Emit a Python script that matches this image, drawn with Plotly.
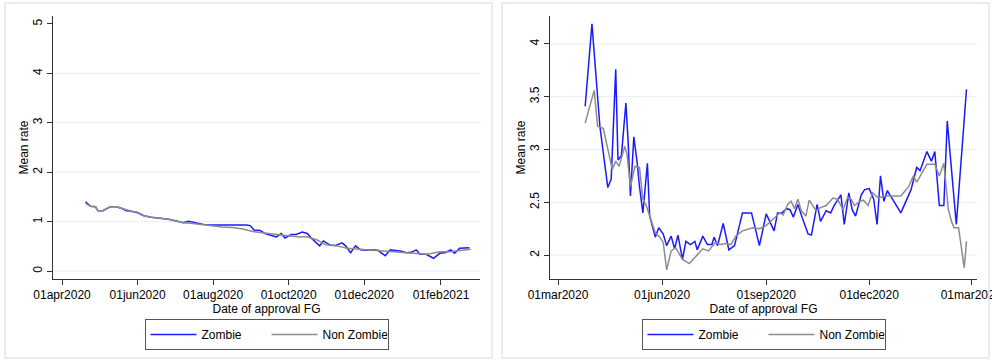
import plotly.graph_objects as go

# ---- Left panel: mean rate by approval date ----
left_zombie_dates = [
    "2020-04-20", "2020-04-22", "2020-04-24", "2020-04-28", "2020-04-30", "2020-05-04",
    "2020-05-07", "2020-05-10", "2020-05-15", "2020-05-19", "2020-05-23", "2020-05-27",
    "2020-06-01", "2020-06-06", "2020-06-12", "2020-06-19", "2020-06-26", "2020-07-03",
    "2020-07-08", "2020-07-12", "2020-07-16", "2020-07-20", "2020-07-27", "2020-08-01",
    "2020-08-08", "2020-08-14", "2020-08-22", "2020-08-28", "2020-08-31", "2020-09-03",
    "2020-09-08", "2020-09-12", "2020-09-17", "2020-09-21", "2020-09-25", "2020-09-28",
    "2020-10-03", "2020-10-07", "2020-10-12", "2020-10-16", "2020-10-20", "2020-10-26",
    "2020-10-29", "2020-11-03", "2020-11-08", "2020-11-13", "2020-11-16", "2020-11-20",
    "2020-11-24", "2020-11-28", "2020-12-03", "2020-12-08", "2020-12-12", "2020-12-18",
    "2020-12-22", "2020-12-27", "2020-12-31", "2021-01-04", "2021-01-08", "2021-01-12",
    "2021-01-15", "2021-01-20", "2021-01-26", "2021-01-31", "2021-02-04", "2021-02-09",
    "2021-02-12", "2021-02-16", "2021-02-21", "2021-02-24",
]
left_zombie_rate = [
    1.40, 1.36, 1.31, 1.30, 1.22, 1.22,
    1.26, 1.30, 1.30, 1.27, 1.22, 1.21,
    1.18, 1.12, 1.09, 1.07, 1.05, 1.01,
    0.98, 1.01, 0.99, 0.96, 0.93, 0.93,
    0.93, 0.94, 0.93, 0.93, 0.92, 0.83,
    0.82, 0.76, 0.72, 0.69, 0.76, 0.67,
    0.74, 0.74, 0.79, 0.76, 0.65, 0.51,
    0.61, 0.53, 0.52, 0.57, 0.51, 0.37,
    0.51, 0.43, 0.42, 0.43, 0.42, 0.31,
    0.43, 0.42, 0.40, 0.37, 0.38, 0.43,
    0.34, 0.34, 0.26, 0.36, 0.37, 0.43,
    0.36, 0.46, 0.47, 0.47,
]

left_nonzombie_dates = [
    "2020-04-20", "2020-04-24", "2020-04-28", "2020-04-30", "2020-05-04", "2020-05-10",
    "2020-05-15", "2020-05-19", "2020-05-23", "2020-05-27", "2020-06-01", "2020-06-06",
    "2020-06-12", "2020-06-19", "2020-06-26", "2020-07-03", "2020-07-08", "2020-07-14",
    "2020-07-20", "2020-07-27", "2020-08-01", "2020-08-08", "2020-08-17", "2020-08-25",
    "2020-09-02", "2020-09-08", "2020-09-13", "2020-09-20", "2020-09-26", "2020-10-02",
    "2020-10-10", "2020-10-15", "2020-10-19", "2020-10-24", "2020-10-31", "2020-11-09",
    "2020-11-17", "2020-11-28", "2020-12-08", "2020-12-19", "2020-12-30", "2021-01-09",
    "2021-01-20", "2021-01-25", "2021-01-31", "2021-02-08", "2021-02-16", "2021-02-25",
]
left_nonzombie_rate = [
    1.37, 1.31, 1.30, 1.22, 1.22, 1.30,
    1.30, 1.27, 1.23, 1.21, 1.19, 1.12,
    1.09, 1.07, 1.05, 1.01, 0.98, 0.97,
    0.95, 0.92, 0.91, 0.89, 0.88, 0.85,
    0.80, 0.78, 0.76, 0.74, 0.73, 0.71,
    0.69, 0.70, 0.67, 0.63, 0.53, 0.51,
    0.46, 0.44, 0.43, 0.41, 0.38, 0.37,
    0.34, 0.36, 0.39, 0.39, 0.41, 0.44,
]

# ---- Right panel: mean rate by approval date ----
right_zombie_dates = [
    "2020-03-25", "2020-03-31", "2020-04-07", "2020-04-14", "2020-04-17", "2020-04-21",
    "2020-04-23", "2020-04-26", "2020-04-30", "2020-05-02", "2020-05-04", "2020-05-07",
    "2020-05-10", "2020-05-12", "2020-05-15", "2020-05-19", "2020-05-21", "2020-05-23",
    "2020-05-26", "2020-05-29", "2020-06-02", "2020-06-05", "2020-06-09", "2020-06-12",
    "2020-06-15", "2020-06-19", "2020-06-22", "2020-06-26", "2020-06-30", "2020-07-02",
    "2020-07-07", "2020-07-11", "2020-07-15", "2020-07-17", "2020-07-20", "2020-07-25",
    "2020-07-30", "2020-08-04", "2020-08-11", "2020-08-19", "2020-08-26", "2020-09-01",
    "2020-09-08", "2020-09-11", "2020-09-15", "2020-09-19", "2020-09-22", "2020-09-25",
    "2020-09-29", "2020-10-03", "2020-10-08", "2020-10-11", "2020-10-16", "2020-10-19",
    "2020-10-24", "2020-10-28", "2020-10-31", "2020-11-06", "2020-11-09", "2020-11-13",
    "2020-11-16", "2020-11-19", "2020-11-24", "2020-11-27", "2020-12-01", "2020-12-05",
    "2020-12-08", "2020-12-11", "2020-12-14", "2020-12-17", "2020-12-21", "2020-12-29",
    "2021-01-07", "2021-01-12", "2021-01-15", "2021-01-21", "2021-01-25", "2021-01-28",
    "2021-02-01", "2021-02-05", "2021-02-08", "2021-02-16", "2021-02-25",
]
right_zombie_rate = [
    3.41, 4.19, 3.22, 2.64, 2.72, 3.76,
    2.90, 2.94, 3.44, 3.07, 2.56, 3.12,
    2.87, 2.65, 2.40, 2.87, 2.37, 2.28,
    2.17, 2.26, 2.20, 2.09, 2.18, 2.06,
    2.19, 1.96, 2.13, 2.10, 2.13, 2.05,
    2.18, 2.10, 2.10, 2.17, 2.09, 2.30,
    2.05, 2.09, 2.40, 2.40, 2.09, 2.39,
    2.23, 2.40, 2.40, 2.44, 2.43, 2.36,
    2.48, 2.35, 2.20, 2.19, 2.48, 2.32,
    2.42, 2.40, 2.47, 2.57, 2.29, 2.59,
    2.43, 2.37, 2.57, 2.62, 2.63, 2.53,
    2.29, 2.75, 2.51, 2.61, 2.54, 2.40,
    2.62, 2.83, 2.80, 2.98, 2.89, 2.98,
    2.47, 2.47, 3.27, 2.29, 3.57,
]

right_nonzombie_dates = [
    "2020-03-25", "2020-04-02", "2020-04-05", "2020-04-10", "2020-04-18", "2020-04-21",
    "2020-04-24", "2020-04-29", "2020-05-01", "2020-05-04", "2020-05-08", "2020-05-12",
    "2020-05-15", "2020-05-18", "2020-05-22", "2020-05-26", "2020-05-30", "2020-06-02",
    "2020-06-05", "2020-06-09", "2020-06-13", "2020-06-19", "2020-06-25", "2020-07-01",
    "2020-07-07", "2020-07-12", "2020-07-18", "2020-07-23", "2020-07-27", "2020-08-01",
    "2020-08-05", "2020-08-11", "2020-08-20", "2020-08-26", "2020-09-01", "2020-09-07",
    "2020-09-13", "2020-09-16", "2020-09-20", "2020-09-23", "2020-09-26", "2020-09-29",
    "2020-10-02", "2020-10-06", "2020-10-09", "2020-10-15", "2020-10-19", "2020-10-24",
    "2020-10-30", "2020-11-03", "2020-11-08", "2020-11-12", "2020-11-15", "2020-11-18",
    "2020-11-23", "2020-11-26", "2020-11-30", "2020-12-04", "2020-12-09", "2020-12-14",
    "2020-12-20", "2020-12-29", "2021-01-05", "2021-01-09", "2021-01-12", "2021-01-18",
    "2021-01-21", "2021-01-28", "2021-02-01", "2021-02-05", "2021-02-09", "2021-02-12",
    "2021-02-14", "2021-02-18", "2021-02-23", "2021-02-25",
]
right_nonzombie_rate = [
    3.25, 3.56, 3.22, 3.20, 2.81, 2.89,
    2.84, 3.03, 2.95, 2.65, 2.84, 2.83,
    2.53, 2.47, 2.34, 2.21, 2.17, 2.12,
    1.86, 2.04, 2.07, 1.96, 1.92, 1.99,
    2.06, 2.04, 2.12, 2.10, 2.11, 2.10,
    2.18, 2.23, 2.26, 2.25, 2.28, 2.34,
    2.40, 2.38, 2.48, 2.51, 2.44, 2.53,
    2.42, 2.37, 2.52, 2.42, 2.45, 2.47,
    2.54, 2.53, 2.43, 2.55, 2.53, 2.47,
    2.51, 2.52, 2.47, 2.59, 2.54, 2.56,
    2.56, 2.56, 2.65, 2.75, 2.69, 2.81,
    2.86, 2.86, 2.75, 2.87, 2.43, 2.31,
    2.26, 2.26, 1.88, 2.13,
]

# ---- Axis ticks ----
left_xtick_dates = ["2020-04-01", "2020-06-01", "2020-08-01", "2020-10-01", "2020-12-01", "2021-02-01"]
left_xtick_labels = ["01apr2020", "01jun2020", "01aug2020", "01oct2020", "01dec2020", "01feb2021"]
left_yticks = [0, 1, 2, 3, 4, 5]
left_ygrid = [0, 1, 2, 3, 4]

right_xtick_dates = ["2020-03-01", "2020-06-01", "2020-09-01", "2020-12-01", "2021-03-01"]
right_xtick_labels = ["01mar2020", "01jun2020", "01sep2020", "01dec2020", "01mar2021"]
right_yticks = [2, 2.5, 3, 3.5, 4]
right_ygrid = [2, 2.5, 3, 3.5, 4]

W, H = 992, 361
FONT = "Liberation Sans, Arial, sans-serif"
BLUE = "#1a1aff"
GRAY = "#8c8c8c"
AXIS = "#333333"
GRID = "#e6eff1"


def px_x(p):
    return p / W


def px_y(p):
    return 1 - p / H


fig = go.Figure()

fig.add_trace(go.Scatter(x=left_zombie_dates, y=left_zombie_rate, mode="lines", name="Zombie",
                         line=dict(color=BLUE, width=1.5), xaxis="x", yaxis="y", legend="legend"))
fig.add_trace(go.Scatter(x=left_nonzombie_dates, y=left_nonzombie_rate, mode="lines", name="Non Zombie",
                         line=dict(color=GRAY, width=1.5), xaxis="x", yaxis="y", legend="legend"))
fig.add_trace(go.Scatter(x=right_zombie_dates, y=right_zombie_rate, mode="lines", name="Zombie",
                         line=dict(color=BLUE, width=1.5), xaxis="x2", yaxis="y2", legend="legend2"))
fig.add_trace(go.Scatter(x=right_nonzombie_dates, y=right_nonzombie_rate, mode="lines", name="Non Zombie",
                         line=dict(color=GRAY, width=1.5), xaxis="x2", yaxis="y2", legend="legend2"))

common_x = dict(showgrid=False, zeroline=False, showline=True, linecolor=AXIS, linewidth=1,
                ticks="outside", ticklen=5, tickcolor=AXIS, tickwidth=1, automargin=False,
                ticklabeloverflow="allow",
                tickfont=dict(size=12, color="black", family=FONT),
                title=dict(text="Date of approval FG", font=dict(size=12, color="black", family=FONT), standoff=0))
common_y = dict(showgrid=False, zeroline=False, showline=True, linecolor=AXIS, linewidth=1,
                ticks="outside", ticklen=5, tickcolor=AXIS, tickwidth=1, tickangle=-90, automargin=False,
                tickfont=dict(size=12, color="black", family=FONT),
                title=dict(text="Mean rate", font=dict(size=12, color="black", family=FONT), standoff=0))

legend_style = dict(orientation="h", xanchor="center", y=px_y(319), yanchor="top",
                    bordercolor="#555555", borderwidth=1, bgcolor="white",
                    font=dict(size=12, family=FONT, color="black"),
                    itemwidth=46, entrywidth=60, traceorder="normal")

fig.update_layout(
    width=W, height=H,
    margin=dict(l=0, r=0, t=0, b=0, autoexpand=False),
    paper_bgcolor="white", plot_bgcolor="white",
    font=dict(family=FONT, size=12, color="black"),
    xaxis=dict(common_x, domain=[px_x(53), px_x(480)], anchor="y",
               range=["2020-03-24 17:00", "2021-03-04 12:00"],
               tickvals=left_xtick_dates, ticktext=left_xtick_labels),
    yaxis=dict(common_y, domain=[px_y(279), px_y(16)], anchor="x",
               range=[-0.16, 5.16], tickvals=left_yticks),
    xaxis2=dict(common_x, domain=[px_x(550), px_x(977)], anchor="y2",
                range=["2020-02-22 22:00", "2021-03-06 07:00"],
                tickvals=right_xtick_dates, ticktext=right_xtick_labels),
    yaxis2=dict(common_y, domain=[px_y(279), px_y(16)], anchor="x2",
                range=[1.774, 4.264], tickvals=right_yticks, tickformat=".1~f"),
    legend=dict(legend_style, x=px_x(266.5)),
    legend2=dict(legend_style, x=px_x(763.5)),
    showlegend=True,
)

shapes = []
# horizontal reference lines
for v in left_ygrid:
    shapes.append(dict(type="line", xref="x domain", yref="y", x0=0, x1=1, y0=v, y1=v,
                       line=dict(color=GRID, width=1), layer="below"))
for v in right_ygrid:
    shapes.append(dict(type="line", xref="x2 domain", yref="y2", x0=0, x1=1, y0=v, y1=v,
                       line=dict(color=GRID, width=1), layer="below"))
# panel frames
shapes.append(dict(type="rect", xref="paper", yref="paper", x0=px_x(5), x1=px_x(492),
                   y0=px_y(358), y1=px_y(3), line=dict(color="#dfe8eb", width=1.5)))
shapes.append(dict(type="rect", xref="paper", yref="paper", x0=px_x(502), x1=px_x(989),
                   y0=px_y(358), y1=px_y(3), line=dict(color="#dfe8eb", width=1.5)))
fig.update_layout(shapes=shapes)

fig.write_html("out.html")
